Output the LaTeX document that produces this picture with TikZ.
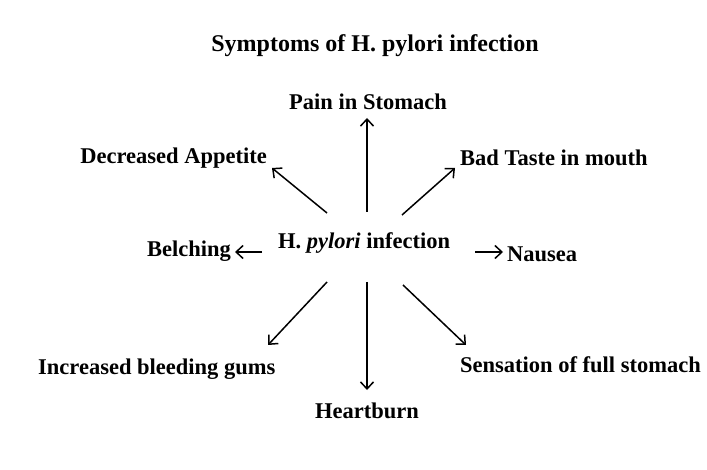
\documentclass[tikz,border=0pt]{standalone}
\usepackage{fontspec}
\setmainfont{Liberation Serif}
\usetikzlibrary{arrows.meta}
\begin{document}
\begin{tikzpicture}[x=1pt,y=-1pt,
  lbl/.style={font=\bfseries\fontsize{22.5}{26}\selectfont, inner sep=0pt},
  arr/.style={-{Straight Barb[length=7pt,width=13pt,line width=1.5pt]}, line width=1.5pt}]
\useasboundingbox[fill=white] (0,0) rectangle (707,470);
\node[lbl, font=\bfseries\fontsize{24}{28}\selectfont, anchor=center] (title) at (375,46) {Symptoms of H. pylori infection};
\node[lbl, anchor=west] (c) at (278,243) {H. \textit{pylori} infection};
\node[lbl, anchor=center] (pain) at (368,102) {Pain in Stomach};
\node[lbl, anchor=east] (dec) at (267,158) {Decreased Appetite};
\node[lbl, anchor=west] (bad) at (460,158) {Bad Taste in mouth};
\node[lbl, anchor=east] (bel) at (231,251) {Belching};
\node[lbl, anchor=west] (nau) at (507,254) {Nausea};
\node[lbl, anchor=west] (gums) at (38,369) {Increased bleeding gums};
\node[lbl, anchor=center] (heart) at (367,411) {Heartburn};
\node[lbl, anchor=west] (full) at (460,365) {Sensation of full stomach};
\coordinate (s1) at (367,212); \coordinate (t1) at (367,118);
\coordinate (s2) at (327,213); \coordinate (t2) at (272,168);
\coordinate (s3) at (402,215); \coordinate (t3) at (455,168);
\coordinate (s4) at (262,252); \coordinate (t4) at (235,252);
\coordinate (s5) at (475,252); \coordinate (t5) at (503,252);
\coordinate (s6) at (327,282); \coordinate (t6) at (268,345);
\coordinate (s7) at (367,282); \coordinate (t7) at (367,390);
\coordinate (s8) at (403,285); \coordinate (t8) at (466,345);
\foreach \i in {1,...,8} {\draw[arr] (s\i) -- (t\i);}
\end{tikzpicture}
\end{document}
